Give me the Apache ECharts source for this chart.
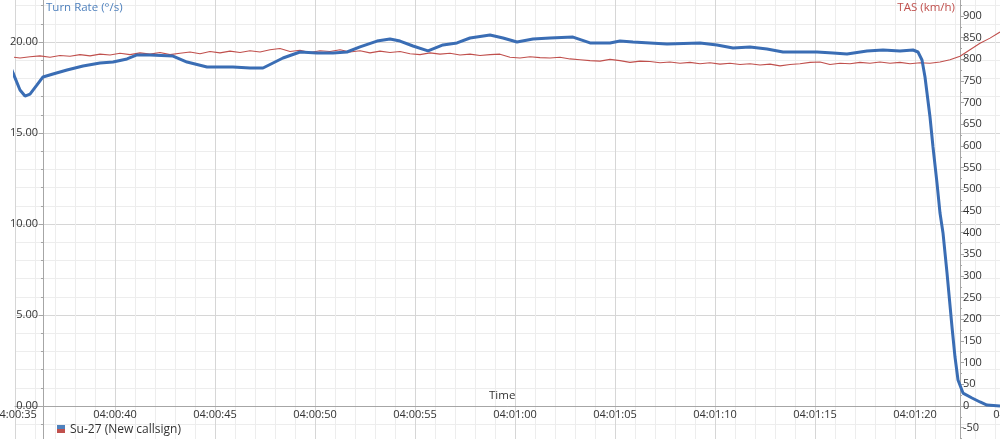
<!DOCTYPE html>
<html>
<head>
<meta charset="utf-8">
<script src="https://cdn.jsdelivr.net/npm/echarts@6/dist/echarts.min.js"></script>
<style>
html,body{margin:0;padding:0;background:#fff;}
#chart{width:1000px;height:439px;}
</style>
</head>
<body>
<div id="chart"></div>
<script>
// Seconds after 04:00:35
const startClock = [4, 0, 35];
const turnTime = [-0.75,-0.4,-0.1,0.25,0.5,0.75,1.1,1.4,1.9,2.6,3.4,4.25,4.9,5.6,6.1,6.75,7.9,8.6,9.6,10.9,11.75,12.4,13.4,14.25,15.1,15.9,16.6,17.25,18.1,18.75,19.25,19.9,20.65,21.4,22.1,22.75,23.75,24.4,25.1,25.9,26.75,27.9,28.75,29.75,30.25,30.9,31.75,32.6,34.25,35.1,35.9,36.75,37.6,38.4,39.25,40.1,40.9,41.6,42.6,43.4,44.25,44.9,45.15,45.35,45.5,45.75,45.9,46.1,46.25,46.4,46.6,46.85,47.0,47.15,47.4,47.85,48.25,48.6,49.25];
const turnRate = [19.73,19.18,18.30,17.36,17.03,17.14,17.64,18.08,18.24,18.46,18.68,18.85,18.90,19.07,19.29,19.29,19.23,18.90,18.63,18.63,18.57,18.57,19.12,19.45,19.40,19.40,19.45,19.73,20.05,20.16,20.05,19.78,19.51,19.84,19.95,20.22,20.38,20.22,20.00,20.16,20.22,20.27,19.95,19.95,20.05,20.00,19.95,19.89,19.95,19.84,19.67,19.73,19.62,19.45,19.45,19.45,19.40,19.34,19.51,19.56,19.51,19.56,19.45,19.01,18.08,15.88,14.23,12.25,10.60,9.51,7.31,4.34,2.69,1.43,0.71,0.44,0.22,0.05,0];
// TAS sampled every 0.5 s starting at -0.75 s
const tasTime = [-0.75,-0.25,0.25,0.75,1.25,1.75,2.25,2.75,3.25,3.75,4.25,4.75,5.25,5.75,6.25,6.75,7.25,7.75,8.25,8.75,9.25,9.75,10.25,10.75,11.25,11.75,12.25,12.75,13.25,13.75,14.25,14.75,15.25,15.75,16.25,16.75,17.25,17.75,18.25,18.75,19.25,19.75,20.25,20.75,21.25,21.75,22.25,22.75,23.25,23.75,24.25,24.75,25.25,25.75,26.25,26.75,27.25,27.75,28.25,28.75,29.25,29.75,30.25,30.75,31.25,31.75,32.25,32.75,33.25,33.75,34.25,34.75,35.25,35.75,36.25,36.75,37.25,37.75,38.25,38.75,39.25,39.75,40.25,40.75,41.25,41.75,42.25,42.75,43.25,43.75,44.25,44.75,45.25,45.75,46.25,46.75,47.25,47.75,48.25,48.75,49.25];
const tas = [808,806,803,806,808,805,809,807,811,808,812,810,814,811,815,812,816,811,814,817,813,818,815,819,816,820,817,822,825,818,821,816,820,818,822,817,820,815,819,816,818,813,811,815,812,814,810,812,809,811,812,805,803,806,804,803,805,801,799,797,796,800,797,793,796,795,792,794,791,793,790,792,789,791,788,790,787,789,785,788,790,793,794,788,791,790,793,791,794,791,793,790,792,791,794,799,807,822,837,849,863];
const leftTicks = {min: -5, max: 25, step: 5};
const rightTicks = {min: -250, max: 1000, step: 50};

function pad(n){ return (n < 10 ? '0' : '') + n; }
function clockLabel(v){
  let s = startClock[0]*3600 + startClock[1]*60 + startClock[2] + Math.round(v);
  const h = Math.floor(s/3600); s -= h*3600;
  const m = Math.floor(s/60); s -= m*60;
  return pad(h) + ':' + pad(m) + ':' + pad(s);
}

const FONT = '"Open Sans", "Noto Sans", sans-serif';
const BLUE = '#3a6db4';
const RED = '#c0504d';
const AXIS = '#a6a6a6';

const chart = echarts.init(document.getElementById('chart'), null, {renderer: 'canvas'});
chart.setOption({
  animation: false,
  backgroundColor: '#ffffff',
  textStyle: {fontFamily: FONT},
  title: [
    {text: 'Turn Rate (°/s)', left: 46, top: 2, padding: 0,
     textStyle: {fontSize: 11.5, fontWeight: 'normal', color: '#4f81bd', fontFamily: FONT}},
    {text: 'TAS (km/h)', right: 45, top: 2, padding: 0,
     textStyle: {fontSize: 11.5, fontWeight: 'normal', color: RED, fontFamily: FONT}},
    {text: 'Time', left: 489, top: 390, padding: 0,
     textStyle: {fontSize: 11.5, fontWeight: 'normal', color: '#333', fontFamily: FONT}}
  ],
  grid: [
    {left: 15, right: -15, top: -49, bottom: -58, containLabel: false, outerBoundsMode: 'none'},
    {left: 15, right: -15, top: -27.3, bottom: -75.3, containLabel: false, outerBoundsMode: 'none'}
  ],
  xAxis: [
    {
      type: 'value', gridIndex: 0, min: 0, max: 50, interval: 5,
      position: 'bottom', offset: -91,
      axisLine: {show: true, onZero: false, lineStyle: {color: AXIS, width: 1}},
      axisTick: {show: false},
      minorTick: {show: false, splitNumber: 5},
      axisLabel: {show: true, margin: 3, fontSize: 11, color: '#333', fontFamily: FONT,
                  showMinLabel: true, showMaxLabel: true, hideOverlap: false,
                  formatter: clockLabel},
      splitLine: {show: true, lineStyle: {color: '#d6d6d6', width: 1}},
      minorSplitLine: {show: true, lineStyle: {color: '#ededed', width: 1}}
    },
    {
      type: 'value', gridIndex: 1, min: 0, max: 50, interval: 5, show: false
    }
  ],
  yAxis: [
    {
      type: 'value', gridIndex: 0, position: 'left', offset: -28,
      min: leftTicks.min, max: leftTicks.max, interval: leftTicks.step,
      axisLine: {show: true, onZero: false, lineStyle: {color: AXIS, width: 1}},
      axisTick: {show: true, inside: false, length: 4, lineStyle: {color: AXIS}},
      minorTick: {show: true, splitNumber: 5, length: 2, lineStyle: {color: AXIS}},
      axisLabel: {margin: 5, fontSize: 11, color: '#333', fontFamily: FONT,
                  formatter: function(v){ return v.toFixed(2); }},
      splitLine: {show: true, lineStyle: {color: '#d6d6d6', width: 1}},
      minorSplitLine: {show: true, lineStyle: {color: '#ededed', width: 1}}
    },
    {
      type: 'value', gridIndex: 1, position: 'right', offset: -55,
      min: rightTicks.min, max: rightTicks.max, interval: rightTicks.step,
      axisLine: {show: true, onZero: false, lineStyle: {color: AXIS, width: 1}},
      axisTick: {show: true, inside: false, length: 4, lineStyle: {color: AXIS}},
      minorTick: {show: true, splitNumber: 2, length: 2, lineStyle: {color: AXIS}},
      axisLabel: {margin: 3, fontSize: 11, color: '#333', fontFamily: FONT,
                  formatter: function(v){ return v < 0 ? '-' + Math.abs(v) : String(v); }},
      splitLine: {show: false},
      minorSplitLine: {show: false}
    }
  ],
  series: [
    {
      name: 'TAS', type: 'line', xAxisIndex: 1, yAxisIndex: 1,
      data: tasTime.map((t, i) => [t, tas[i]]),
      showSymbol: false, symbol: 'none', clip: false,
      lineStyle: {color: RED, width: 1.1}, z: 3
    },
    {
      name: 'Turn Rate', type: 'line', xAxisIndex: 0, yAxisIndex: 0,
      data: turnTime.map((t, i) => [t, turnRate[i]]),
      showSymbol: false, symbol: 'none', clip: false,
      lineStyle: {color: BLUE, width: 3}, z: 4
    }
  ],
  graphic: [
    {type: 'rect', left: 57, top: 425, shape: {width: 8, height: 4}, style: {fill: '#4f81bd'}, z: 10},
    {type: 'rect', left: 57, top: 429, shape: {width: 8, height: 4}, style: {fill: RED}, z: 10},
    {type: 'text', left: 70, top: 424, z: 10,
     style: {text: 'Su-27 (New callsign)', fontSize: 12, fill: '#333', fontFamily: FONT}}
  ]
});
</script>
</body>
</html>
